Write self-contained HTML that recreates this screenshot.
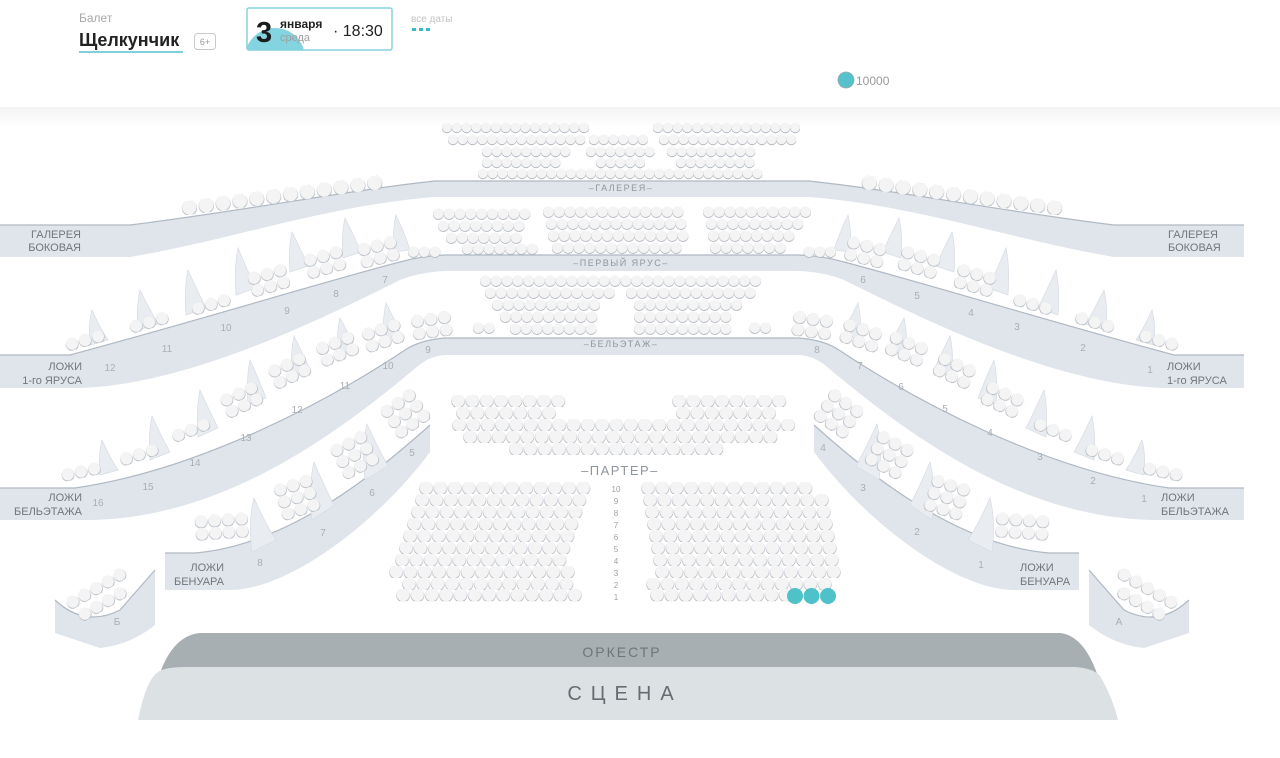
<!DOCTYPE html>
<html><head><meta charset="utf-8"><style>
html,body{margin:0;padding:0;background:#fff;width:1280px;height:758px;overflow:hidden;font-family:"Liberation Sans","DejaVu Sans",sans-serif}
svg{display:block}
</style></head><body>
<svg width="1280" height="758" viewBox="0 0 1280 758" xmlns="http://www.w3.org/2000/svg" font-family="Liberation Sans, DejaVu Sans, sans-serif">
<defs>
<linearGradient id="sh" x1="0" y1="0" x2="0" y2="1"><stop offset="0" stop-color="#f3f3f4"/><stop offset="1" stop-color="#ffffff"/></linearGradient>
<pattern id="g" width="9.8" height="11.5" patternUnits="userSpaceOnUse"><circle cx="4.9" cy="6" r="5.2" fill="#b1b7bf"/><circle cx="4.9" cy="5.4" r="4.9" fill="#f4f4f5"/></pattern>
<pattern id="p" width="10.8" height="12" patternUnits="userSpaceOnUse"><circle cx="5.4" cy="6.3" r="5.6" fill="#b1b7bf"/><circle cx="5.4" cy="5.7" r="5.3" fill="#f4f4f5"/></pattern>
<pattern id="s" width="14.3" height="12" patternUnits="userSpaceOnUse"><circle cx="7.15" cy="6.4" r="6.9" fill="#b1b7bf"/><circle cx="7.15" cy="5.8" r="6.5" fill="#f4f4f5"/></pattern>
<pattern id="l" width="13.5" height="12.5" patternUnits="userSpaceOnUse"><circle cx="6.75" cy="6.6" r="6.4" fill="#b1b7bf"/><circle cx="6.75" cy="6" r="6" fill="#f4f4f5"/></pattern>
<pattern id="a" width="17" height="14" patternUnits="userSpaceOnUse"><circle cx="8.5" cy="7.4" r="7.6" fill="#b1b7bf"/><circle cx="8.5" cy="6.8" r="7.2" fill="#f4f4f5"/></pattern>
</defs>

<rect x="0" y="107" width="1280" height="20" fill="url(#sh)"/>
<text x="79" y="22" font-size="12" fill="#a8a8a8">Балет</text>
<text x="79" y="46" font-size="18" font-weight="bold" fill="#222">Щелкунчик</text>
<rect x="79" y="51" width="104" height="2" fill="#7fcfdc"/>
<rect x="194.5" y="33.5" width="21" height="16" rx="3" fill="#fff" stroke="#c8c8c8"/>
<text x="205" y="45" font-size="9" fill="#999" text-anchor="middle">6+</text>
<clipPath id="dc"><rect x="247" y="8" width="145" height="42" rx="2"/></clipPath>
<circle cx="275" cy="58" r="30" fill="#83d3e0" clip-path="url(#dc)"/>
<rect x="247" y="8" width="145" height="42" rx="2" fill="none" stroke="#86d2de" stroke-width="1.5"/>
<text x="256" y="42" font-size="29" font-weight="bold" fill="#1c1c1c">3</text>
<text x="280" y="28" font-size="12" font-weight="bold" fill="#222">января</text>
<text x="280" y="41" font-size="11" fill="#a0a0a0">среда</text>
<text x="333" y="36" font-size="16" fill="#222">· 18:30</text>
<text x="411" y="22" font-size="10" fill="#c3c3c3">все даты</text>
<rect x="412" y="28" width="4" height="3" fill="#3ab8cc"/><rect x="419" y="28" width="4" height="3" fill="#3ab8cc"/><rect x="426" y="28" width="4" height="3" fill="#3ab8cc"/>
<circle cx="846" cy="80" r="8" fill="#55c2cc" stroke="#9aa" stroke-width="0.8"/>
<text x="856" y="85" font-size="12" fill="#9a9a9a">10000</text>

<path d="M155,690 Q168,636 200,633 L1060,633 Q1088,636 1102,690 Z" fill="#a7afb2"/>
<path d="M138,720 Q146,680 158,672 Q165,667 185,667 L1075,667 Q1093,668 1100,676 Q1112,696 1118,720 Z" fill="#dce1e4"/>
<text x="622" y="657" font-size="14" fill="#6e7578" text-anchor="middle" letter-spacing="2">ОРКЕСТР</text>
<text x="625" y="700" font-size="20" fill="#666c70" text-anchor="middle" letter-spacing="9">СЦЕНА</text>

<g id="half">
<g fill="#dfe5eb">
<path d="M0,225 L130,225 C250,210 350,190 435,181 L623,181 L623,197 L435,197 C330,205 230,240 130,257 L0,257 Z"/>
<path d="M0,355 L70,355 C200,320 330,280 400,262 Q420,256 445,255 L623,255 L623,271 L445,271 Q420,272 400,280 C300,330 180,385 80,388 L0,388 Z"/>
<path d="M0,488 L75,488 C200,470 330,400 405,350 Q420,340 445,338 L623,338 L623,355 L445,355 Q430,356 418,366 C330,440 220,518 90,520 L0,520 Z"/>
<path d="M165,553 L195,553 C290,545 380,470 430,425 L430,452 C380,520 290,590 230,590 L165,590 Z"/>
<path d="M55,600 Q85,628 120,610 L155,570 L155,625 Q130,645 100,648 L55,633 Z"/>
</g>
<g fill="none" stroke="#b0b9c3" stroke-width="1.2">
<path d="M0,225 L130,225 C250,210 350,190 435,181 L623,181"/>
<path d="M0,355 L70,355 C200,320 330,280 400,262 Q420,256 445,255 L623,255"/>
<path d="M0,488 L75,488 C200,470 330,400 405,350 Q420,340 445,338 L623,338"/>
<path d="M165,553 L195,553 C290,545 380,470 430,425"/>
<path d="M55,600 Q85,628 120,610 L155,570"/>
</g>
<g fill="#e9edf1" stroke="#d6dce2" stroke-width="0.7">
<path d="M90,345 Q88,325 92,310 Q100,328 108,340 Z"/>
<path d="M138,330 Q136,308 140,290 Q150,310 158,324 Z"/>
<path d="M186,315 Q184,290 188,270 Q198,292 206,308 Z"/>
<path d="M236,295 Q234,268 238,248 Q248,272 256,288 Z"/>
<path d="M290,272 Q288,250 292,232 Q302,252 308,266 Z"/>
<path d="M343,258 Q341,236 345,218 Q355,238 361,252 Z"/>
<path d="M394,252 Q392,232 396,215 Q405,234 410,250 Z"/>
<path d="M100,475 Q98,455 102,440 Q110,458 118,470 Z"/>
<path d="M150,460 Q148,435 152,416 Q162,438 170,452 Z"/>
<path d="M198,437 Q196,410 200,390 Q210,412 218,428 Z"/>
<path d="M248,405 Q246,380 250,360 Q260,382 266,398 Z"/>
<path d="M292,378 Q290,355 294,336 Q304,356 310,370 Z"/>
<path d="M338,356 Q336,335 340,318 Q350,336 356,350 Z"/>
<path d="M384,340 Q382,320 386,303 Q396,322 400,334 Z"/>
<path d="M252,552 Q248,522 254,498 Q266,525 276,540 Z"/>
<path d="M312,520 Q308,488 314,462 Q326,490 334,505 Z"/>
<path d="M365,480 Q361,450 367,424 Q380,452 388,466 Z"/>
</g>
<g transform="translate(180,202) rotate(-7.6)"><rect width="204" height="14" fill="url(#a)"/></g>
<g transform="translate(64,340) rotate(-16)"><rect width="40.5" height="12.5" fill="url(#l)"/></g>
<g transform="translate(128,322) rotate(-16)"><rect width="40.5" height="12.5" fill="url(#l)"/></g>
<g transform="translate(190,304) rotate(-16)"><rect width="40.5" height="12.5" fill="url(#l)"/></g>
<g transform="translate(246,274) rotate(-16)"><rect width="40.5" height="25" fill="url(#l)"/></g>
<g transform="translate(302,256) rotate(-16)"><rect width="40.5" height="25" fill="url(#l)"/></g>
<g transform="translate(356,245) rotate(-14)"><rect width="40.5" height="25" fill="url(#l)"/></g>
<g transform="translate(408,246)"><rect width="32.4" height="12" fill="url(#p)"/></g>
<g transform="translate(60,470) rotate(-12)"><rect width="40.5" height="12.5" fill="url(#l)"/></g>
<g transform="translate(118,455) rotate(-18)"><rect width="40.5" height="12.5" fill="url(#l)"/></g>
<g transform="translate(170,432) rotate(-22)"><rect width="40.5" height="12.5" fill="url(#l)"/></g>
<g transform="translate(218,397) rotate(-25)"><rect width="40.5" height="25" fill="url(#l)"/></g>
<g transform="translate(266,368) rotate(-25)"><rect width="40.5" height="25" fill="url(#l)"/></g>
<g transform="translate(314,345) rotate(-22)"><rect width="40.5" height="25" fill="url(#l)"/></g>
<g transform="translate(360,330) rotate(-18)"><rect width="40.5" height="25" fill="url(#l)"/></g>
<g transform="translate(410,316) rotate(-8)"><rect width="40.5" height="25" fill="url(#l)"/></g>
<g transform="translate(473,322)"><rect width="21.6" height="12" fill="url(#p)"/></g>
<g transform="translate(194,516) rotate(-4)"><rect width="54" height="25" fill="url(#l)"/></g>
<g transform="translate(272,486) rotate(-18)"><rect width="40.5" height="37.5" fill="url(#l)"/></g>
<g transform="translate(328,448) rotate(-28)"><rect width="40.5" height="37.5" fill="url(#l)"/></g>
<g transform="translate(378,410) rotate(-35)"><rect width="40.5" height="37.5" fill="url(#l)"/></g>
<g transform="translate(64,600) rotate(-30)"><rect width="67.5" height="12.5" fill="url(#l)"/></g>
<g transform="translate(76,612) rotate(-30)"><rect width="54" height="12.5" fill="url(#l)"/></g>
</g>
<use href="#half" transform="translate(1244,0) scale(-1,1)"/>

<g font-size="11" fill="#6f767c" text-anchor="end">
<text x="81" y="238">ГАЛЕРЕЯ</text><text x="81" y="251">БОКОВАЯ</text>
<text x="82" y="370">ЛОЖИ</text><text x="82" y="384">1-го ЯРУСА</text>
<text x="82" y="501">ЛОЖИ</text><text x="82" y="515">БЕЛЬЭТАЖА</text>
<text x="224" y="571">ЛОЖИ</text><text x="224" y="585">БЕНУАРА</text>
</g>
<g font-size="11" fill="#6f767c" text-anchor="start">
<text x="1168" y="238">ГАЛЕРЕЯ</text><text x="1168" y="251">БОКОВАЯ</text>
<text x="1167" y="370">ЛОЖИ</text><text x="1167" y="384">1-го ЯРУСА</text>
<text x="1161" y="501">ЛОЖИ</text><text x="1161" y="515">БЕЛЬЭТАЖА</text>
<text x="1020" y="571">ЛОЖИ</text><text x="1020" y="585">БЕНУАРА</text>
</g>
<g font-size="9" fill="#8e969e" text-anchor="middle" letter-spacing="1.5">
<text x="621" y="191">–ГАЛЕРЕЯ–</text>
<text x="621" y="266">–ПЕРВЫЙ ЯРУС–</text>
<text x="621" y="347">–БЕЛЬЭТАЖ–</text>
</g>
<text x="620" y="475" font-size="13" fill="#8e969e" text-anchor="middle" letter-spacing="1.5">–ПАРТЕР–</text>
<g font-size="10" fill="#a7afb6" text-anchor="middle">
<text x="110" y="371">12</text><text x="167" y="352">11</text><text x="226" y="331">10</text><text x="287" y="314">9</text><text x="336" y="297">8</text><text x="385" y="283">7</text>
<text x="98" y="506">16</text><text x="148" y="490">15</text><text x="195" y="466">14</text><text x="246" y="441">13</text><text x="297" y="413">12</text><text x="345" y="389">11</text><text x="388" y="369">10</text><text x="428" y="353">9</text>
<text x="260" y="566">8</text><text x="323" y="536">7</text><text x="372" y="496">6</text><text x="412" y="456">5</text><text x="117" y="625">Б</text>
<text x="863" y="283">6</text><text x="917" y="299">5</text><text x="971" y="316">4</text><text x="1017" y="330">3</text><text x="1083" y="351">2</text><text x="1150" y="373">1</text>
<text x="817" y="353">8</text><text x="860" y="369">7</text><text x="901" y="390">6</text><text x="945" y="412">5</text><text x="990" y="436">4</text><text x="1040" y="460">3</text><text x="1093" y="484">2</text><text x="1144" y="502">1</text>
<text x="823" y="451">4</text><text x="863" y="491">3</text><text x="917" y="535">2</text><text x="981" y="568">1</text><text x="1119" y="625">А</text>
</g>

<g transform="translate(442,122)"><rect width="147" height="11.5" fill="url(#g)"/></g>
<g transform="translate(653,122)"><rect width="147" height="11.5" fill="url(#g)"/></g>
<g transform="translate(448,134)"><rect width="137.2" height="11.5" fill="url(#g)"/></g>
<g transform="translate(589,134)"><rect width="58.8" height="11.5" fill="url(#g)"/></g>
<g transform="translate(659,134)"><rect width="137.2" height="11.5" fill="url(#g)"/></g>
<g transform="translate(482,146)"><rect width="88.2" height="11.5" fill="url(#g)"/></g>
<g transform="translate(586,146)"><rect width="68.6" height="11.5" fill="url(#g)"/></g>
<g transform="translate(667,146)"><rect width="88.2" height="11.5" fill="url(#g)"/></g>
<g transform="translate(482,157)"><rect width="78.4" height="11.5" fill="url(#g)"/></g>
<g transform="translate(596,157)"><rect width="49" height="11.5" fill="url(#g)"/></g>
<g transform="translate(676,157)"><rect width="78.4" height="11.5" fill="url(#g)"/></g>
<g transform="translate(478,168)"><rect width="284.2" height="11.5" fill="url(#g)"/></g>
<g transform="translate(433,208)"><rect width="97.2" height="12" fill="url(#p)"/></g>
<g transform="translate(543,206)"><rect width="140.4" height="12" fill="url(#p)"/></g>
<g transform="translate(703,206)"><rect width="108" height="12" fill="url(#p)"/></g>
<g transform="translate(438,220)"><rect width="86.4" height="12" fill="url(#p)"/></g>
<g transform="translate(546,218)"><rect width="140.4" height="12" fill="url(#p)"/></g>
<g transform="translate(706,218)"><rect width="97.2" height="12" fill="url(#p)"/></g>
<g transform="translate(446,232)"><rect width="75.6" height="12" fill="url(#p)"/></g>
<g transform="translate(548,230)"><rect width="140.4" height="12" fill="url(#p)"/></g>
<g transform="translate(708,230)"><rect width="86.4" height="12" fill="url(#p)"/></g>
<g transform="translate(462,243)"><rect width="75.6" height="12" fill="url(#p)"/></g>
<g transform="translate(552,242)"><rect width="129.6" height="12" fill="url(#p)"/></g>
<g transform="translate(710,242)"><rect width="75.6" height="12" fill="url(#p)"/></g>
<g transform="translate(480,275)"><rect width="280.8" height="12" fill="url(#p)"/></g>
<g transform="translate(485,287)"><rect width="129.6" height="12" fill="url(#p)"/></g>
<g transform="translate(626,287)"><rect width="129.6" height="12" fill="url(#p)"/></g>
<g transform="translate(492,299)"><rect width="108" height="12" fill="url(#p)"/></g>
<g transform="translate(634,299)"><rect width="108" height="12" fill="url(#p)"/></g>
<g transform="translate(500,311)"><rect width="97.2" height="12" fill="url(#p)"/></g>
<g transform="translate(634,311)"><rect width="97.2" height="12" fill="url(#p)"/></g>
<g transform="translate(510,323)"><rect width="86.4" height="12" fill="url(#p)"/></g>
<g transform="translate(634,323)"><rect width="97.2" height="12" fill="url(#p)"/></g>
<g transform="translate(451,395)"><rect width="114.4" height="12" fill="url(#s)"/></g>
<g transform="translate(672,395)"><rect width="114.4" height="12" fill="url(#s)"/></g>
<g transform="translate(456,407)"><rect width="100.1" height="12" fill="url(#s)"/></g>
<g transform="translate(676,407)"><rect width="100.1" height="12" fill="url(#s)"/></g>
<g transform="translate(452,419)"><rect width="343.2" height="12" fill="url(#s)"/></g>
<g transform="translate(463,431)"><rect width="314.6" height="12" fill="url(#s)"/></g>
<g transform="translate(509,443)"><rect width="214.5" height="12" fill="url(#s)"/></g>
<g transform="translate(419,482)"><rect width="171.6" height="12" fill="url(#s)"/></g>
<g transform="translate(415,494)"><rect width="171.6" height="12" fill="url(#s)"/></g>
<g transform="translate(411,506)"><rect width="171.6" height="12" fill="url(#s)"/></g>
<g transform="translate(407,518)"><rect width="171.6" height="12" fill="url(#s)"/></g>
<g transform="translate(403,530)"><rect width="171.6" height="12" fill="url(#s)"/></g>
<g transform="translate(399,542)"><rect width="171.6" height="12" fill="url(#s)"/></g>
<g transform="translate(395,554)"><rect width="171.6" height="12" fill="url(#s)"/></g>
<g transform="translate(389,566)"><rect width="186" height="12" fill="url(#s)"/></g>
<g transform="translate(402,578)"><rect width="171.6" height="12" fill="url(#s)"/></g>
<g transform="translate(396,589)"><rect width="186" height="13" fill="url(#s)"/></g>
<g transform="translate(641,482)"><rect width="171.6" height="12" fill="url(#s)"/></g>
<g transform="translate(643,494)"><rect width="186" height="12" fill="url(#s)"/></g>
<g transform="translate(645,506)"><rect width="186" height="12" fill="url(#s)"/></g>
<g transform="translate(647,518)"><rect width="186" height="12" fill="url(#s)"/></g>
<g transform="translate(649,530)"><rect width="186" height="12" fill="url(#s)"/></g>
<g transform="translate(651,542)"><rect width="186" height="12" fill="url(#s)"/></g>
<g transform="translate(653,554)"><rect width="186" height="12" fill="url(#s)"/></g>
<g transform="translate(655,566)"><rect width="186" height="12" fill="url(#s)"/></g>
<g transform="translate(646,578)"><rect width="186" height="12" fill="url(#s)"/></g>
<g transform="translate(650,589)"><rect width="143" height="13" fill="url(#s)"/></g>
<circle cx="795" cy="596" r="8" fill="#4fc1c9"/><circle cx="811.5" cy="596" r="8" fill="#4fc1c9"/><circle cx="828" cy="596" r="8" fill="#4fc1c9"/>
<g font-size="8" fill="#9aa2a8" text-anchor="middle">
<text x="616" y="492">10</text><text x="616" y="504">9</text><text x="616" y="516">8</text><text x="616" y="528">7</text><text x="616" y="540">6</text><text x="616" y="552">5</text><text x="616" y="564">4</text><text x="616" y="576">3</text><text x="616" y="588">2</text><text x="616" y="600">1</text>
</g>
</svg>
</body></html>
